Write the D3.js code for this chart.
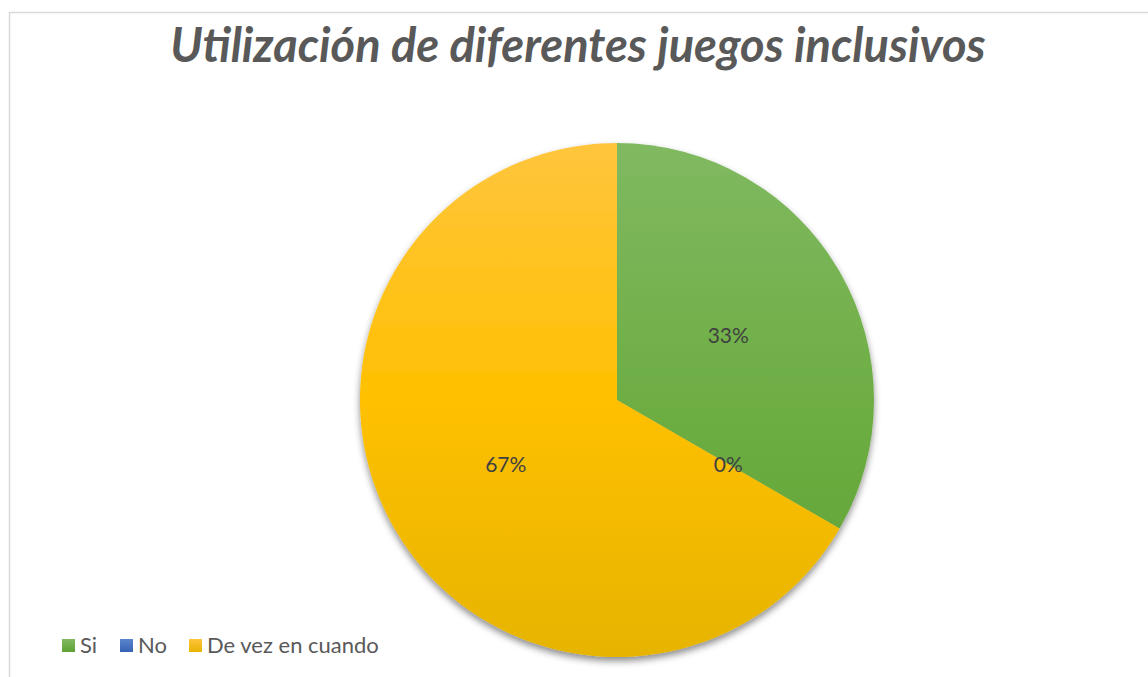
<!DOCTYPE html>
<html>
<head>
<meta charset="utf-8">
<script src="https://cdn.jsdelivr.net/npm/d3@7"></script>
<style>
  body { margin: 0; background: #fff; }
  svg { display: block; font-family: Lato, "Open Sans", sans-serif; }
</style>
</head>
<body>
<svg id="chart"></svg>
<script>
// datos del gráfico
const categories = ["Si", "No", "De vez en cuando"];
const values = [1, 0, 2];
const colors = ["#6eae44", "#4472c4", "#ffc000"];
const lightColors = ["#80b961", "#5a84cc", "#ffc53d"];
const darkColors = ["#5ea232", "#3763b5", "#e6b400"];
const title = "Utilización de diferentes juegos inclusivos";

const width = 1148, height = 677;
const cx = 617, cy = 400, radius = 257;

const svg = d3.select("#chart")
  .attr("width", width)
  .attr("height", height);

// borde del área del gráfico
svg.append("path")
  .attr("d", `M9.5,${height} L9.5,12.5 L${width},12.5`)
  .attr("fill", "none")
  .attr("stroke", "#d9d9d9")
  .attr("stroke-width", 1.5);

const defs = svg.append("defs");

const shadow = defs.append("filter")
  .attr("id", "shadow")
  .attr("x", "-10%").attr("y", "-10%")
  .attr("width", "120%").attr("height", "125%");
shadow.append("feDropShadow")
  .attr("dx", 0).attr("dy", 4)
  .attr("stdDeviation", 3.5)
  .attr("flood-color", "#000")
  .attr("flood-opacity", 0.45);

// gradientes verticales sobre el círculo (coordenadas del grupo centrado)
categories.forEach((c, i) => {
  const g = defs.append("linearGradient")
    .attr("id", "grad" + i)
    .attr("gradientUnits", "userSpaceOnUse")
    .attr("x1", 0).attr("x2", 0)
    .attr("y1", -radius).attr("y2", radius);
  g.append("stop").attr("offset", "0%").attr("stop-color", lightColors[i]);
  g.append("stop").attr("offset", "50%").attr("stop-color", colors[i]);
  g.append("stop").attr("offset", "100%").attr("stop-color", darkColors[i]);

  const lg = defs.append("linearGradient")
    .attr("id", "lg" + i)
    .attr("x1", 0).attr("x2", 0).attr("y1", 0).attr("y2", 1);
  lg.append("stop").attr("offset", "0%").attr("stop-color", lightColors[i]);
  lg.append("stop").attr("offset", "100%").attr("stop-color", darkColors[i]);
});

// título
svg.append("text")
  .attr("x", 578)
  .attr("y", 62)
  .attr("text-anchor", "middle")
  .style("font-size", "47px")
  .style("font-weight", "bold")
  .style("font-style", "italic")
  .style("fill", "#595959")
  .text(title);

const pie = d3.pie().sort(null).value(d => d)(values);
const arc = d3.arc().innerRadius(0).outerRadius(radius);
const labelArc = d3.arc().innerRadius(radius * 0.5).outerRadius(radius * 0.5);

const chart = svg.append("g")
  .attr("transform", `translate(${cx},${cy})`);

chart.append("g")
  .attr("filter", "url(#shadow)")
  .selectAll("path")
  .data(pie)
  .enter().append("path")
  .attr("d", arc)
  .attr("fill", (d, i) => `url(#grad${i})`);

const total = d3.sum(values);
chart.selectAll("text.label")
  .data(pie)
  .enter().append("text")
  .attr("class", "label")
  .attr("x", d => labelArc.centroid(d)[0])
  .attr("y", d => labelArc.centroid(d)[1])
  .attr("text-anchor", "middle")
  .attr("dy", "0.35em")
  .style("font-size", "21px")
  .style("fill", "#404040")
  .text(d => Math.round(d.data / total * 100) + "%");

// leyenda
const legendX = [62, 120, 189];
const legend = svg.append("g")
  .selectAll("g")
  .data(categories)
  .enter().append("g")
  .attr("transform", (d, i) => `translate(${legendX[i]},639)`);

legend.append("rect")
  .attr("width", 13).attr("height", 13)
  .attr("fill", (d, i) => `url(#lg${i})`);

legend.append("text")
  .attr("x", 18)
  .attr("y", 14)
  .style("font-size", "22px")
  .style("fill", "#595959")
  .text(d => d);
</script>
</body>
</html>
